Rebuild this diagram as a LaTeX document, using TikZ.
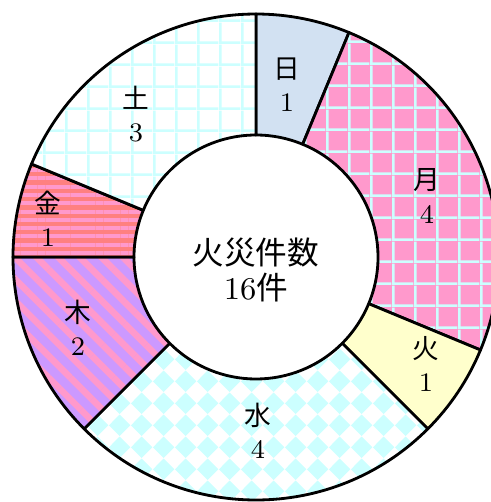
\documentclass[tikz,border=0pt]{standalone}
\usepackage{fontspec}
\newfontfamily\jpfont{Noto Sans CJK JP}
\usetikzlibrary{patterns.meta}

\definecolor{sunblue}{RGB}{210,225,242}
\definecolor{monpink}{RGB}{255,153,204}
\definecolor{gridcyan}{RGB}{204,255,255}
\definecolor{tueyellow}{RGB}{255,255,204}
\definecolor{thupurple}{RGB}{204,153,255}
\definecolor{frisalmon}{RGB}{255,128,128}

\tikzdeclarepattern{
  name=gridcells,
  type=uncolored,
  bounding box={(0,0) and (0.217,0.217)},
  tile size={(0.217,0.217)},
  code={
    \fill (0,0) rectangle (0.217,0.026);
    \fill (0,0) rectangle (0.026,0.217);
  }
}

\tikzdeclarepattern{
  name=diamonds,
  type=uncolored,
  bounding box={(0,0) and (0.217,0.217)},
  tile size={(0.217,0.217)},
  code={
    \fill (0.1085,0) -- (0.217,0.1085) -- (0.1085,0.217) -- (0,0.1085) -- cycle;
  }
}

\begin{document}
\begin{tikzpicture}[
    sector/.style={draw=black, line width=0.8pt, line join=round},
    lbl/.style={align=center, font=\fontsize{7.6}{9.4}\selectfont, inner sep=0pt}
  ]

    \useasboundingbox (-2.56,-2.45) rectangle (2.35,2.57);
    \clip (-2.56,-2.45) rectangle (2.35,2.57);

    %% Fire count ring

    % Sunday
    \draw[sector, fill=sunblue]
      (90:1.22) -- (90:2.43) arc[start angle=90, end angle=67.5, radius=2.43]
      -- (67.5:1.22) arc[start angle=67.5, end angle=90, radius=1.22] -- cycle;

    % Monday
    \draw[sector, preaction={fill=monpink}, pattern=gridcells, pattern color=gridcyan]
      (67.5:1.22) -- (67.5:2.43) arc[start angle=67.5, end angle=-22.5, radius=2.43]
      -- (-22.5:1.22) arc[start angle=-22.5, end angle=67.5, radius=1.22] -- cycle;

    % Tuesday
    \draw[sector, fill=tueyellow]
      (-22.5:1.22) -- (-22.5:2.43) arc[start angle=-22.5, end angle=-45, radius=2.43]
      -- (-45:1.22) arc[start angle=-45, end angle=-22.5, radius=1.22] -- cycle;

    % Wednesday
    \draw[sector, preaction={fill=white}, pattern=diamonds, pattern color=gridcyan]
      (-45:1.22) -- (-45:2.43) arc[start angle=-45, end angle=-135, radius=2.43]
      -- (-135:1.22) arc[start angle=-135, end angle=-45, radius=1.22] -- cycle;

    % Thursday
    \draw[sector, preaction={fill=thupurple}, pattern color=monpink,
          pattern={Lines[angle=-45, distance=0.153cm, line width=0.065cm]}]
      (-135:1.22) -- (-135:2.43) arc[start angle=-135, end angle=-180, radius=2.43]
      -- (-180:1.22) arc[start angle=-180, end angle=-135, radius=1.22] -- cycle;

    % Friday
    \draw[sector, preaction={fill=frisalmon}, pattern color=monpink,
          pattern={Lines[angle=0, distance=0.083cm, line width=0.04cm]}]
      (180:1.22) -- (180:2.43) arc[start angle=180, end angle=157.5, radius=2.43]
      -- (157.5:1.22) arc[start angle=157.5, end angle=180, radius=1.22] -- cycle;

    % Saturday
    \draw[sector, preaction={fill=white}, pattern=gridcells, pattern color=gridcyan]
      (157.5:1.22) -- (157.5:2.43) arc[start angle=157.5, end angle=90, radius=2.43]
      -- (90:1.22) arc[start angle=90, end angle=157.5, radius=1.22] -- cycle;

    % Labels
    \node[lbl] (sun) at (0.31,1.72) {{\jpfont 日}\\1};
    \node[lbl] (mon) at (1.71,0.61) {{\jpfont 月}\\4};
    \node[lbl] (tue) at (1.70,-1.07) {{\jpfont 火}\\1};
    \node[lbl] (wed) at (0.02,-1.74) {{\jpfont 水}\\4};
    \node[lbl] (thu) at (-1.78,-0.71) {{\jpfont 木}\\2};
    \node[lbl] (fri) at (-2.08,0.38) {{\jpfont 金}\\1};
    \node[lbl] (sat) at (-1.20,1.43) {{\jpfont 土}\\3};

    % Total in the middle
    \node[align=center, font=\fontsize{9}{10}\selectfont, inner sep=0pt]
      (total) at (0,-0.13) {{\jpfont 火災件数}\\16{\jpfont 件}};

\end{tikzpicture}
\end{document}
